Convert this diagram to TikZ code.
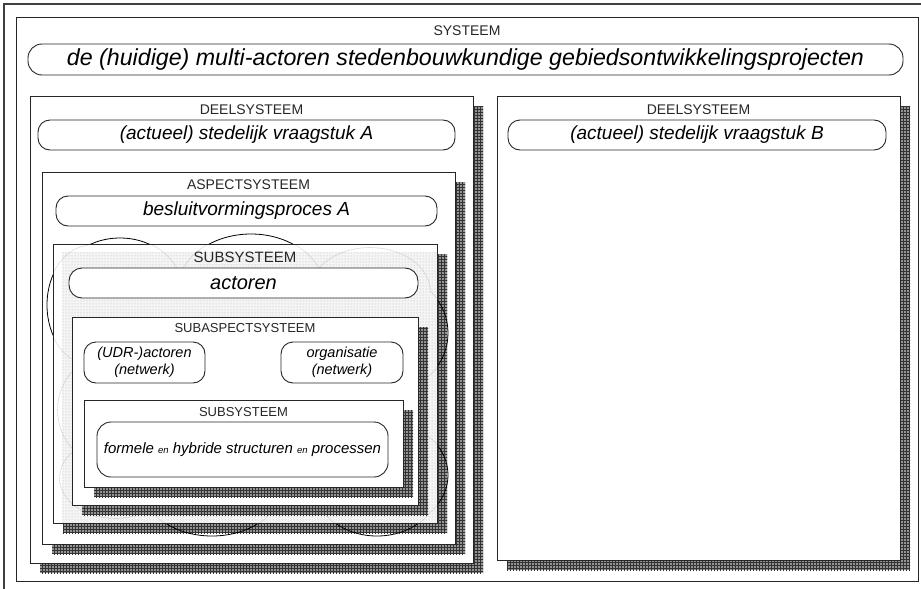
\documentclass[tikz,border=0pt]{standalone}
\usepackage{fontspec}
\setmainfont{Liberation Sans}
\usetikzlibrary{patterns}
\begin{document}
\begin{tikzpicture}[x=1pt,y=-1pt,
  frame/.style={draw=black!85, line width=0.9pt, fill=white, inner sep=0pt, outer sep=0pt, anchor=north west},
  pill/.style={draw=black!85, line width=0.9pt, fill=white, rounded corners=12pt, inner sep=0pt, outer sep=0pt, anchor=north west, align=center},
  capt/.style={font=\fontsize{14}{16}\selectfont, text=black!85, inner sep=0pt},
  smallcapt/.style={font=\fontsize{13}{15}\selectfont, text=black!85, inner sep=0pt},
  ital/.style={font=\fontsize{19}{22}\selectfont\itshape},
  hatch/.style={fill=black!42, postaction={pattern=grid, pattern color=black!80}},
]
\useasboundingbox (0,0) rectangle (921,589);
\fill[white] (0,0) rectangle (921,589);

% page border
\draw[line width=1.8pt, black!75] (4,589) -- (4,4) -- (921,4);

% system level
\node[frame, minimum width=902, minimum height=564] (sys) at (16,17) {};
\node[capt] (sysLabel) at (467,31) {SYSTEEM};
\node[pill, rounded corners=14pt, minimum width=875, minimum height=31,
      font=\fontsize{23.2}{26}\selectfont\itshape] (sysName) at (28,44)
      {de (huidige) multi-actoren stedenbouwkundige gebiedsontwikkelingsprojecten};

% subsystem A
\path[hatch] (40,106) rectangle (483,573);
\node[frame, minimum width=443, minimum height=467] (deelA) at (30,96) {};
\node[capt] (deelALabel) at (251.5,110) {DEELSYSTEEM};
\node[pill, ital, minimum width=417, minimum height=30] (deelAName) at (38,120)
      {(actueel) stedelijk vraagstuk A};

% subsystem B
\path[hatch] (507,106) rectangle (910,570);
\node[frame, minimum width=403, minimum height=464] (deelB) at (497,96) {};
\node[capt] (deelBLabel) at (698.5,110) {DEELSYSTEEM};
\node[pill, ital, minimum width=378, minimum height=30] (deelBName) at (508,120)
      {(actueel) stedelijk vraagstuk B};

% aspect system
\path[hatch] (52,182) rectangle (465,554);
\node[frame, minimum width=413, minimum height=372] (asp) at (42,172) {};
\node[capt] (aspLabel) at (248.5,185) {ASPECTSYSTEEM};
\node[pill, ital, minimum width=381, minimum height=30] (aspName) at (56,196)
      {besluitvormingsproces A};

% actor subsystem: shadow, cloud behind, translucent dotted box
\path[hatch] (63,254) rectangle (447,533);
\fill[white] (53,244) rectangle (437,523);
\begin{scope}
  \clip (53,244) rectangle (437,523);
  \foreach \a/\b/\c/\d in {120/290/62/52, 251/290/73/56, 90/305/43/59, 400/333/48/53,
      400/475/48/47, 212/490/67/46, 377/490/60/46, 110/410/52/55, 115/478/55/40,
      370/292/60/44, 245/385/170/125}
    \draw[line width=1.6pt] (\a,\b) ellipse [x radius=\c, y radius=\d];
  \foreach \a/\b/\c/\d in {120/290/62/52, 251/290/73/56, 90/305/43/59, 400/333/48/53,
      400/475/48/47, 212/490/67/46, 377/490/60/46, 110/410/52/55, 115/478/55/40,
      370/292/60/44, 245/385/170/125}
    \fill[white] (\a,\b) ellipse [x radius=\c, y radius=\d];
\end{scope}
\begin{scope}[even odd rule]
  \clip (0,0) rectangle (921,589) (53,244) rectangle (437,523);
  \foreach \a/\b/\c/\d in {120/290/62/52, 251/290/73/56, 90/305/43/59, 400/333/48/53,
      400/475/48/47, 212/490/67/46, 377/490/60/46}
    \draw[line width=0.8pt] (\a,\b) ellipse [x radius=\c, y radius=\d];
\end{scope}
\fill[white, opacity=0.88] (53,244) rectangle (437,523);
\fill[gray, opacity=0.08] (62,252) rectangle (437,523);
\fill[pattern=dots, pattern color=gray!60] (62,252) rectangle (437,523);
\node[frame, fill=none, minimum width=384, minimum height=279] (sub) at (53,244) {};
\node[capt, font=\fontsize{15}{17}\selectfont] (subLabel) at (245,257) {SUBSYSTEEM};
\node[pill, rounded corners=13pt, minimum width=349, minimum height=30,
      font=\fontsize{20}{23}\selectfont\itshape] (subName) at (69,268) {actoren};

% sub-aspect system
\path[hatch] (82,327) rectangle (428,515);
\node[frame, minimum width=346, minimum height=188] (subAsp) at (72,317) {};
\node[smallcapt] (subAspLabel) at (245,328) {SUBASPECTSYSTEEM};
\node[pill, minimum width=121, minimum height=41,
      font=\fontsize{14.5}{17}\selectfont\itshape] (udr) at (84,342)
      {(UDR-)actoren\\(netwerk)};
\node[pill, minimum width=122, minimum height=41,
      font=\fontsize{14.5}{17}\selectfont\itshape] (org) at (281,342)
      {organisatie\\(netwerk)};

% innermost subsystem
\path[hatch] (94,410) rectangle (413,497);
\node[frame, minimum width=319, minimum height=87] (inner) at (84,400) {};
\node[smallcapt] (innerLabel) at (243.5,412) {SUBSYSTEEM};
\node[pill, rounded corners=14pt, minimum width=291, minimum height=55,
      font=\fontsize{15}{18}\selectfont\itshape] (innerName) at (97,422)
      {formele {\fontsize{9.5}{11}\selectfont en} hybride structuren {\fontsize{9.5}{11}\selectfont en} processen};
\end{tikzpicture}
\end{document}
